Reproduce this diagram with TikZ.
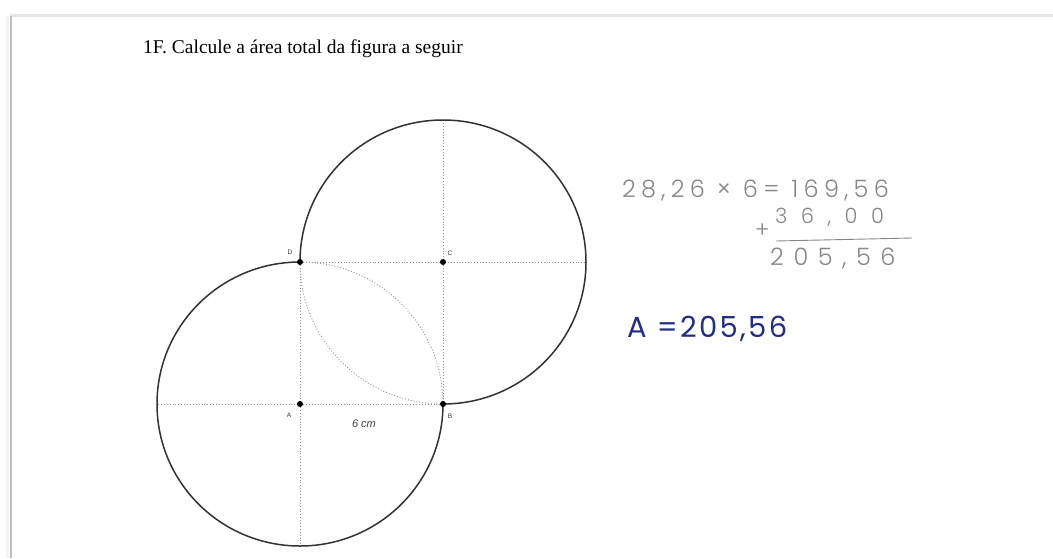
\documentclass[tikz,border=0pt]{standalone}
\usepackage{fontspec}
\setmainfont{Liberation Serif}
\newfontfamily\hand{Poppins Light}
\newfontfamily\handb{Poppins}
\newfontfamily\lbl{Liberation Sans}
\definecolor{pencil}{RGB}{135,135,135}
\definecolor{ink}{RGB}{35,45,130}
\definecolor{edge}{RGB}{190,190,190}
\definecolor{outline}{RGB}{50,50,50}
\begin{document}
\begin{tikzpicture}[x=1pt,y=-1pt,
  solidarc/.style={draw=outline,line width=1.5pt},
  guide/.style={draw=gray!85,line width=0.9pt,dotted},
  pt/.style={circle,fill=black,inner sep=0pt,minimum size=6pt},
  ptlabel/.style={font=\lbl\fontsize{6.5}{7}\selectfont,text=black!80,inner sep=0pt},
  pencilnote/.style={text=pencil,inner sep=0pt,anchor=west},
  inknote/.style={text=ink,inner sep=0pt,anchor=west}]
\useasboundingbox (0,0) rectangle (1053,558);
\fill[white] (0,0) rectangle (1053,558);
% page edges
\draw[gray!20,line width=3pt] (10,15.5) -- (1053,15.5);
\draw[gray!8,line width=3pt] (7,16) -- (7,558);
\draw[edge,line width=1.6pt] (11,16) -- (11,558);
% title
\node[anchor=west,inner sep=0pt,font=\fontsize{19.5}{22}\selectfont] (title) at (143,49) {1F. Calcule a área total da figura a seguir};
% points
\coordinate (A) at (300,404);
\coordinate (B) at (443,404);
\coordinate (C) at (443,262);
\coordinate (D) at (300,262);
\coordinate (Aleft) at (158,404);
\coordinate (Abot) at (300,546);
\coordinate (Cright) at (585,262);
\coordinate (Ctop) at (443,120);
% guides
\draw[guide] (Aleft) -- (B);
\draw[guide] (D) -- (Abot);
\draw[guide] (D) -- (Cright);
\draw[guide] (Ctop) -- (B);
\draw[guide] (D) arc[start angle=90,end angle=0,x radius=143,y radius=-142];
\draw[guide] (D) arc[start angle=180,end angle=270,x radius=143,y radius=-142];
% outlines
\draw[solidarc] (D) arc[start angle=90,end angle=360,x radius=143,y radius=-142];
\draw[solidarc] (B) arc[start angle=-90,end angle=180,x radius=143,y radius=-142];
% dots
\node[pt] (pA) at (A) {};
\node[pt] (pB) at (B) {};
\node[pt] (pC) at (C) {};
\node[pt] (pD) at (D) {};
\node[ptlabel] (lA) at (289,415) {A};
\node[ptlabel] (lB) at (450,416) {B};
\node[ptlabel] (lC) at (450,253) {C};
\node[ptlabel] (lD) at (290,252) {D};
\node[font=\lbl\itshape\fontsize{11}{12}\selectfont,text=black!75,inner sep=0pt] (six) at (364,424) {6 cm};
% pencil calculation
\node[pencilnote,font={\hand\addfontfeatures{LetterSpace=22}\fontsize{24}{26}\selectfont}] (l1) at (622,190) {28,26 × 6= 169,56};
\node[pencilnote,font={\hand\addfontfeatures{LetterSpace=64}\fontsize{21}{22}\selectfont}] (l2) at (775,217) {36,00};
\node[pencilnote,font={\hand\fontsize{22}{24}\selectfont}] (plus) at (755,231) {+};
\draw[pencil,line width=0.9pt] (776,241) -- (912,238);
\node[pencilnote,font={\hand\addfontfeatures{LetterSpace=40}\fontsize{24}{26}\selectfont}] (l3) at (770,258) {205,56};
% ink answer
\node[inknote,font={\handb\addfontfeatures{LetterSpace=8}\fontsize{29}{30}\selectfont}] (ans) at (627,329) {A =205,56};
\end{tikzpicture}
\end{document}
